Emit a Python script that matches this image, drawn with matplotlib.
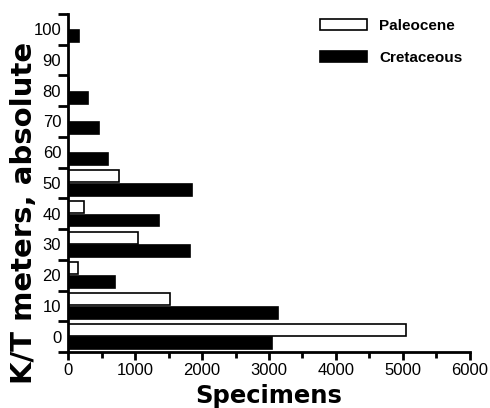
import numpy as np
import matplotlib.pyplot as plt
from matplotlib.ticker import MultipleLocator, FixedLocator

plt.rcParams['font.family'] = ['Liberation Sans', 'DejaVu Sans']

# Datos
metros = [0, 10, 20, 30, 40, 50, 60, 70, 80, 90, 100]
paleoceno = [5045, 1520, 145, 1045, 240, 760, 0, 0, 10, 0, 0]
cretacico = [3045, 3140, 705, 1825, 1360, 1850, 600, 460, 290, 0, 170]

fig = plt.figure(figsize=(4.9, 4.08), dpi=100)
ax = fig.add_axes([0.139, 0.137, 0.82, 0.829])

y = np.array(metros)
ax.barh(y + 2.2, paleoceno, height=3.9, color='white', edgecolor='black', linewidth=1.2, label='Paleocene')
ax.barh(y - 2.2, cretacico, height=3.9, color='black', edgecolor='black', linewidth=1.2, label='Cretaceous')

ax.set_xlim(0, 6000)
ax.set_ylim(-5, 105)

# Ejes
for s in ['top', 'right']:
    ax.spines[s].set_visible(False)
for s in ['left', 'bottom']:
    ax.spines[s].set_linewidth(2)

ax.xaxis.set_major_locator(MultipleLocator(1000))
ax.xaxis.set_minor_locator(MultipleLocator(500))
ax.tick_params(axis='x', which='major', length=6, width=2, labelsize=12, pad=2)
ax.tick_params(axis='x', which='minor', length=4, width=2)

# ticks del eje y en los limites de cada grupo, etiquetas en el centro
ax.yaxis.set_major_locator(FixedLocator(metros))
ax.yaxis.set_minor_locator(FixedLocator(np.arange(-5, 106, 10)))
ax.tick_params(axis='y', which='major', length=0, labelsize=12, pad=5)
ax.tick_params(axis='y', which='minor', length=7, width=2)

ax.set_xlabel('Specimens', fontsize=17.5, fontweight='bold', family=['DejaVu Sans'], labelpad=4)
ax.set_ylabel('K/T meters, absolute', fontsize=21, fontweight='bold', family=['DejaVu Sans'])
ax.yaxis.set_label_coords(-0.074, 0.41)

ax.legend(loc='upper right', frameon=False, prop={'weight': 'bold', 'size': 11},
          handlelength=3.1, handleheight=0.75, handletextpad=0.8, labelspacing=1.15,
          borderaxespad=0.0, borderpad=0.35, bbox_to_anchor=(0.995, 1.0))

plt.savefig('out.png', dpi=100)
